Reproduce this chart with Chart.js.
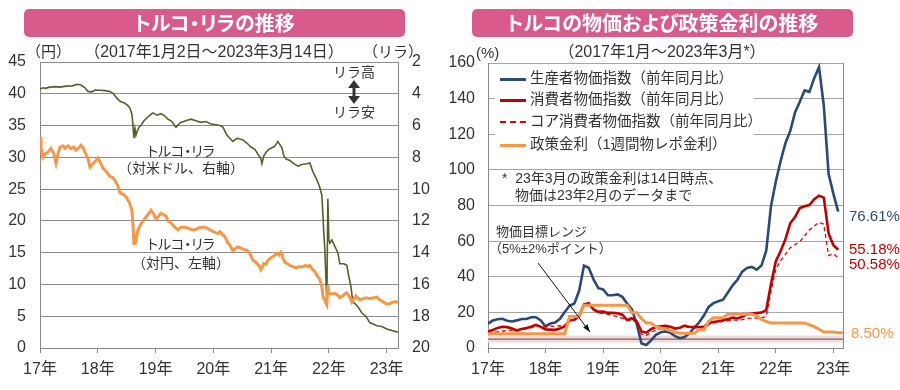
<!DOCTYPE html>
<html>
<head>
<meta charset="utf-8">
<script src="https://cdn.jsdelivr.net/npm/chart.js@4.4.0/dist/chart.umd.min.js"></script>
<style>
  body { margin: 0; width: 900px; height: 390px; background: #fff; position: relative; overflow: hidden;
         font-family: "Liberation Sans", "Noto Sans CJK JP", sans-serif; color: #333; }
  canvas { position: absolute; top: 0; }
  .banner { position: absolute; top: 9px; height: 28px; width: 381px; background: #d95b8b; border-radius: 5px;
            color: #fff; font: bold 20px "Noto Sans CJK JP", sans-serif; line-height: 28px; text-align: center;
            font-feature-settings: "palt"; }
  .t { position: absolute; white-space: nowrap; line-height: 1; font-size: 15px; }
  .p { font-feature-settings: "palt"; }
  .c { transform: translateX(-50%); }
  #legend { position: absolute; left: 495px; top: 65px; width: 259px; height: 94px; background: #fff; }
  .row { position: absolute; left: 0; height: 20px; font-size: 14.5px; line-height: 20px; white-space: nowrap; }
  .row i { display: inline-block; width: 26px; margin: 0 4px 0 5px; vertical-align: middle; }
</style>
</head>
<body>
<canvas id="left" width="450" height="390" style="left:0"></canvas>
<canvas id="right" width="450" height="390" style="left:450px"></canvas>

<div class="banner" style="left:24px">トルコ・リラの推移</div>
<div class="banner" style="left:472px">トルコの物価および政策金利の推移</div>

<div class="t" style="left:26px;top:44px">（円）</div>
<div class="t c" style="left:214px;top:44px;font-size:16px">（2017年1月2日～2023年3月14日）</div>
<div class="t" style="left:363px;top:44px">（リラ）</div>
<div class="t c p" style="left:181px;top:144px;font-size:14px">トルコ・リラ</div>
<div class="t c" style="left:181px;top:161px;font-size:14px">（対米ドル、右軸）</div>
<div class="t c p" style="left:181px;top:237px;font-size:14px">トルコ・リラ</div>
<div class="t c" style="left:181px;top:256px;font-size:14px">（対円、左軸）</div>
<div class="t c" style="left:354px;top:65px;font-size:14px">リラ高</div>
<div class="t c" style="left:354px;top:105px;font-size:14px">リラ安</div>

<div class="t" style="left:476px;top:45px">(%)</div>
<div class="t c" style="left:662px;top:44px;font-size:16px">（2017年1月～2023年3月*）</div>
<div id="legend">
  <div class="row" style="top:3px"><i style="border-top:3px solid #2b4a76"></i>生産者物価指数（前年同月比）</div>
  <div class="row" style="top:24px"><i style="border-top:3px solid #c00000"></i>消費者物価指数（前年同月比）</div>
  <div class="row" style="top:46px"><i style="border-top:2px dashed #e00000"></i>コア消費者物価指数（前年同月比）</div>
  <div class="row" style="top:69px"><i style="border-top:3px solid #f79646"></i>政策金利（1週間物レポ金利）</div>
</div>
<div class="t" style="left:502px;top:171px;font-size:14px">*&nbsp;&nbsp;23年3月の政策金利は14日時点、</div>
<div class="t" style="left:515px;top:188px;font-size:14px">物価は23年2月のデータまで</div>
<div class="t" style="left:496px;top:225px;font-size:13px">物価目標レンジ</div>
<div class="t" style="left:489px;top:242px;font-size:13px">（5%±2%ポイント）</div>
<div class="t" style="left:849px;top:208px;color:#2b4a76">76.61%</div>
<div class="t" style="left:849px;top:241px;color:#c00000">55.18%</div>
<div class="t" style="left:849px;top:256px;color:#c00000">50.58%</div>
<div class="t" style="left:851px;top:325px;color:#f79646">8.50%</div>

<script>
// トルコ・リラ (daily)
const yearTicks = [2017, 2018, 2019, 2020, 2021, 2022, 2023];

const usdDates = [2017.000, 2017.052, 2017.087, 2017.173, 2017.260, 2017.346, 2017.450, 2017.554, 2017.657, 2017.709,
  2017.779, 2017.830, 2017.900, 2017.952, 2018.038, 2018.125, 2018.211, 2018.263, 2018.349, 2018.401,
  2018.471, 2018.522, 2018.557, 2018.592, 2018.609, 2018.626, 2018.644, 2018.661, 2018.678, 2018.713,
  2018.747, 2018.799, 2018.869, 2018.920, 2018.955, 2019.024, 2019.093, 2019.163, 2019.215, 2019.284,
  2019.353, 2019.405, 2019.439, 2019.526, 2019.612, 2019.699, 2019.785, 2019.872, 2019.958, 2020.045,
  2020.114, 2020.166, 2020.235, 2020.287, 2020.339, 2020.408, 2020.460, 2020.512, 2020.581, 2020.651,
  2020.720, 2020.772, 2020.824, 2020.841, 2020.875, 2020.910, 2020.962, 2021.014, 2021.066, 2021.118,
  2021.152, 2021.187, 2021.221, 2021.256, 2021.325, 2021.394, 2021.464, 2021.533, 2021.619, 2021.671,
  2021.723, 2021.792, 2021.844, 2021.879, 2021.896, 2021.913, 2021.931, 2021.948, 2021.965, 2021.983,
  2022.000, 2022.017, 2022.052, 2022.104, 2022.156, 2022.190, 2022.260, 2022.311, 2022.346, 2022.381,
  2022.415, 2022.450, 2022.502, 2022.571, 2022.640, 2022.709, 2022.830, 2022.917, 2023.003, 2023.090,
  2023.194];
const usdValues = [3.70, 3.62, 3.66, 3.58, 3.55, 3.58, 3.52, 3.50, 3.40, 3.45,
  3.62, 3.85, 3.88, 3.76, 3.78, 3.80, 3.85, 3.97, 4.35, 4.50,
  4.60, 4.75, 4.90, 5.30, 6.00, 6.80, 6.20, 6.60, 6.40, 6.10,
  6.00, 5.70, 5.45, 5.30, 5.20, 5.35, 5.25, 5.40, 5.60, 5.75,
  6.10, 5.90, 5.80, 5.70, 5.60, 5.70, 5.80, 5.75, 5.90, 5.95,
  6.00, 6.10, 6.60, 6.80, 7.00, 6.80, 6.85, 6.90, 7.10, 7.35,
  7.50, 7.80, 8.10, 8.40, 7.90, 7.70, 7.50, 7.40, 7.30, 7.00,
  7.20, 7.40, 7.90, 8.10, 8.20, 8.40, 8.55, 8.45, 8.40, 8.35,
  8.90, 9.40, 9.90, 10.40, 11.50, 12.80, 13.80, 15.50, 17.20, 10.60,
  13.20, 13.40, 13.20, 13.60, 14.00, 14.70, 14.70, 14.80, 15.50, 16.10,
  17.10, 17.20, 17.40, 17.80, 18.00, 18.40, 18.60, 18.65, 18.80, 18.90,
  19.00];

const jpyDates = [2017.000, 2017.017, 2017.052, 2017.087, 2017.138, 2017.190, 2017.242, 2017.277, 2017.311, 2017.346,
  2017.398, 2017.433, 2017.484, 2017.536, 2017.588, 2017.623, 2017.675, 2017.709, 2017.744, 2017.779,
  2017.830, 2017.865, 2017.917, 2017.969, 2018.003, 2018.038, 2018.090, 2018.142, 2018.211, 2018.263,
  2018.315, 2018.349, 2018.384, 2018.436, 2018.488, 2018.540, 2018.574, 2018.592, 2018.609, 2018.626,
  2018.644, 2018.661, 2018.696, 2018.747, 2018.817, 2018.869, 2018.920, 2018.972, 2019.007, 2019.042,
  2019.093, 2019.128, 2019.180, 2019.215, 2019.266, 2019.336, 2019.388, 2019.439, 2019.509, 2019.578,
  2019.630, 2019.682, 2019.751, 2019.803, 2019.855, 2019.907, 2019.958, 2020.028, 2020.080, 2020.114,
  2020.166, 2020.201, 2020.253, 2020.287, 2020.339, 2020.374, 2020.426, 2020.478, 2020.529, 2020.581,
  2020.633, 2020.685, 2020.737, 2020.789, 2020.824, 2020.841, 2020.875, 2020.910, 2020.945, 2020.997,
  2021.048, 2021.100, 2021.135, 2021.170, 2021.187, 2021.204, 2021.239, 2021.291, 2021.343, 2021.377,
  2021.429, 2021.481, 2021.550, 2021.602, 2021.637, 2021.671, 2021.706, 2021.758, 2021.810, 2021.844,
  2021.879, 2021.896, 2021.913, 2021.931, 2021.948, 2021.965, 2021.983, 2022.000, 2022.017, 2022.069,
  2022.104, 2022.156, 2022.190, 2022.242, 2022.277, 2022.311, 2022.346, 2022.381, 2022.398, 2022.433,
  2022.467, 2022.484, 2022.536, 2022.571, 2022.640, 2022.709, 2022.779, 2022.830, 2022.882, 2022.952,
  2023.003, 2023.055, 2023.107, 2023.159, 2023.194];
const jpyValues = [33.2, 31.5, 30.0, 30.5, 30.8, 31.4, 30.5, 29.1, 30.5, 31.6,
  31.8, 31.4, 31.8, 31.4, 31.6, 31.1, 31.5, 31.9, 31.5, 30.8,
  29.8, 28.5, 29.0, 29.5, 29.9, 29.3, 28.3, 27.8, 27.0, 26.8,
  26.1, 25.5, 24.4, 24.2, 23.8, 23.0, 22.2, 21.5, 19.5, 16.2,
  17.5, 17.0, 18.6, 19.5, 20.4, 21.0, 21.7, 21.0, 20.3, 20.6,
  21.2, 21.0, 20.8, 20.0, 19.7, 19.0, 18.6, 19.0, 19.0, 18.8,
  18.6, 18.6, 18.9, 19.0, 19.0, 18.8, 18.5, 18.2, 18.0, 18.3,
  17.8, 17.5, 16.5, 16.2, 15.3, 15.6, 15.9, 15.7, 15.5, 15.4,
  14.9, 13.8, 13.5, 13.0, 12.3, 12.6, 13.3, 13.2, 13.8, 14.2,
  14.5, 14.9, 14.6, 15.1, 14.9, 14.2, 13.5, 13.2, 12.9, 12.8,
  12.6, 12.8, 12.8, 13.0, 12.8, 13.0, 12.5, 12.0, 11.2, 10.8,
  9.6, 8.3, 7.8, 7.5, 7.1, 6.8, 9.9, 8.6, 8.6, 8.5,
  8.6, 8.3, 7.9, 8.2, 8.5, 8.7, 8.2, 7.6, 7.2, 7.7,
  8.2, 8.0, 7.6, 7.7, 7.9, 7.8, 7.9, 8.0, 7.6, 7.2,
  6.9, 7.0, 7.2, 7.3, 7.1];

// 物価・政策金利 (monthly from 2017年1月)
const ppi = [13.7, 15.4, 16.1, 16.4, 15.3, 14.9, 15.5, 16.3, 16.3, 17.3, 17.3, 15.5,
  12.1, 13.7, 14.3, 16.4, 20.2, 23.7, 25.0, 32.1, 46.2, 45.0, 38.5, 33.6,
  32.9, 29.6, 29.6, 30.1, 28.7, 25.0, 21.7, 13.5, 2.5, 1.7, 4.3, 7.4,
  8.8, 9.3, 8.5, 6.7, 5.5, 6.2, 8.3, 11.5, 14.3, 18.2, 23.1, 25.2,
  26.2, 27.1, 31.2, 35.2, 38.3, 42.9, 44.9, 45.5, 44.0, 46.3, 54.6, 79.9,
  93.5, 105.0, 115.0, 121.8, 132.2, 138.3, 144.6, 143.8, 151.5, 157.7, 136.0, 97.7,
  86.5, 76.61];
const cpi = [9.2, 10.1, 11.3, 11.9, 11.7, 10.9, 9.8, 10.7, 11.2, 11.9, 13.0, 11.9,
  10.4, 10.3, 10.2, 10.9, 12.2, 15.4, 15.9, 17.9, 24.5, 25.2, 21.6, 20.3,
  20.4, 19.7, 19.7, 19.5, 18.7, 15.7, 16.7, 15.0, 9.3, 8.6, 10.6, 11.8,
  12.2, 12.4, 11.9, 10.9, 11.4, 12.6, 11.8, 11.8, 11.8, 11.9, 14.0, 14.6,
  15.0, 15.6, 16.2, 17.1, 16.6, 17.5, 19.0, 19.3, 19.6, 19.9, 21.3, 36.1,
  48.7, 54.4, 61.1, 70.0, 73.5, 78.6, 79.6, 80.2, 83.5, 85.5, 84.4, 64.3,
  57.7, 55.18];
const coreCpi = [8.4, 8.8, 9.1, 9.4, 9.7, 10.0, 10.0, 10.2, 10.7, 11.4, 12.1, 12.3,
  12.0, 12.3, 12.1, 12.5, 12.9, 15.4, 16.1, 17.5, 24.1, 24.3, 21.3, 19.6,
  19.4, 18.9, 18.3, 17.5, 16.7, 15.7, 15.3, 14.5, 7.7, 7.0, 9.0, 10.0,
  10.9, 11.0, 11.0, 11.0, 11.4, 11.6, 11.6, 11.3, 11.3, 11.4, 12.9, 14.1,
  14.6, 15.0, 15.2, 15.8, 15.5, 15.9, 16.4, 16.8, 16.8, 17.0, 17.6, 31.9,
  44.3, 49.1, 52.5, 56.3, 58.0, 59.7, 63.0, 66.3, 68.5, 70.5, 69.5, 51.9,
  52.9, 50.58];
const policyRate = [8, 8, 8, 8, 8, 8, 8, 8, 8, 8, 8, 8,
  8, 8, 8, 8, 8, 17.75, 17.75, 17.75, 24, 24, 24, 24,
  24, 24, 24, 24, 24, 24, 19.75, 19.75, 16.5, 14, 14, 12,
  11.25, 10.75, 9.75, 8.75, 8.25, 8.25, 8.25, 8.25, 10.25, 10.25, 15, 17,
  17, 17, 19, 19, 19, 19, 19, 19, 18, 16, 15, 14,
  14, 14, 14, 14, 14, 14, 14, 13, 12, 10.5, 9, 9,
  9, 8.5, 8.5];
const targetBand = [3, 5, 7];

const FONT = '"Liberation Sans", "Noto Sans CJK JP", sans-serif';
const tickFont = { family: FONT, size: 16 };
const pts = (xs, ys) => ys.map((v, i) => ({ x: xs[i], y: v }));
const monthly = arr => arr.map((v, i) => ({ x: 2017 + i / 12, y: v }));
const yearLabel = v => String(v).slice(2) + '年';
const setYears = s => { s.ticks = yearTicks.map(v => ({ value: v })); };

// ---- left chart ----
const liraArrow = {
  id: 'liraArrow',
  afterDraw(chart) {
    const c = chart.ctx;
    const x = 354, y1 = 80, y2 = 104;
    c.save();
    c.strokeStyle = '#333'; c.fillStyle = '#333'; c.lineWidth = 3;
    c.beginPath(); c.moveTo(x, y1 + 5); c.lineTo(x, y2 - 5); c.stroke();
    c.beginPath(); c.moveTo(x, y1); c.lineTo(x - 6, y1 + 8); c.lineTo(x + 6, y1 + 8); c.fill();
    c.beginPath(); c.moveTo(x, y2); c.lineTo(x - 6, y2 - 8); c.lineTo(x + 6, y2 - 8); c.fill();
    c.restore();
  }
};

new Chart(document.getElementById('left'), {
  type: 'line',
  data: {
    datasets: [
      { data: pts(jpyDates, jpyValues), yAxisID: 'yL', borderColor: '#f79646', borderWidth: 3,
        pointRadius: 0, tension: 0 },
      { data: pts(usdDates, usdValues), yAxisID: 'yR', borderColor: '#4f6228', borderWidth: 1.6,
        pointRadius: 0, tension: 0 }
    ]
  },
  options: {
    responsive: false, animation: false, events: [],
    layout: { padding: { top: 62, right: 0, left: 0, bottom: 0 } },
    plugins: { legend: { display: false }, tooltip: { enabled: false } },
    scales: {
      x: {
        type: 'linear', min: 2017, max: 2023.197,
        afterBuildTicks: setYears,
        afterFit: s => { s.height = 42; },
        grid: { drawOnChartArea: false, drawTicks: true, tickLength: 5, color: '#888' },
        border: { color: '#888' },
        ticks: { font: tickFont, color: '#333', padding: 7, maxRotation: 0, callback: yearLabel }
      },
      yL: {
        position: 'left', min: 0, max: 45,
        afterFit: s => { s.width = 40; },
        grid: { color: '#8c8c8c', drawTicks: false },
        border: { color: '#888' },
        ticks: { stepSize: 5, font: tickFont, color: '#333', padding: 14 }
      },
      yR: {
        position: 'right', min: 2, max: 20, reverse: true,
        afterFit: s => { s.width = 52; },
        grid: { drawOnChartArea: false, drawTicks: false },
        border: { color: '#888' },
        ticks: { stepSize: 2, font: tickFont, color: '#333', padding: 14 }
      }
    }
  },
  plugins: [liraArrow]
});

// ---- right chart ----
const bandPlugin = {
  id: 'band',
  beforeDatasetsDraw(chart) {
    const { ctx, chartArea: a, scales } = chart;
    const y = scales.y;
    ctx.save();
    ctx.fillStyle = '#f2dcdb';
    ctx.fillRect(a.left, y.getPixelForValue(targetBand[2]), a.right - a.left,
      y.getPixelForValue(targetBand[0]) - y.getPixelForValue(targetBand[2]));
    ctx.strokeStyle = '#7b6464'; ctx.lineWidth = 1.2;
    ctx.beginPath();
    ctx.moveTo(a.left, y.getPixelForValue(targetBand[1]));
    ctx.lineTo(a.right, y.getPixelForValue(targetBand[1]));
    ctx.stroke();
    ctx.restore();
  },
  afterDatasetsDraw(chart) {
    const { ctx, scales } = chart;
    const x1 = scales.x.getPixelForValue(2017.87), y1 = scales.y.getPixelForValue(47.7);
    const x2 = scales.x.getPixelForValue(2018.77), y2 = scales.y.getPixelForValue(9);
    const ang = Math.atan2(y2 - y1, x2 - x1);
    ctx.save();
    ctx.strokeStyle = '#111'; ctx.fillStyle = '#111'; ctx.lineWidth = 1;
    ctx.beginPath(); ctx.moveTo(x1, y1); ctx.lineTo(x2, y2); ctx.stroke();
    ctx.beginPath();
    ctx.moveTo(x2, y2);
    ctx.lineTo(x2 - 8 * Math.cos(ang - 0.35), y2 - 8 * Math.sin(ang - 0.35));
    ctx.lineTo(x2 - 8 * Math.cos(ang + 0.35), y2 - 8 * Math.sin(ang + 0.35));
    ctx.fill();
    ctx.restore();
  }
};

new Chart(document.getElementById('right'), {
  type: 'line',
  data: {
    datasets: [
      { data: monthly(policyRate), borderColor: '#f79646', borderWidth: 3, pointRadius: 0, tension: 0 },
      { data: monthly(coreCpi), borderColor: '#e00000', borderWidth: 1.3, borderDash: [4, 3], pointRadius: 0, tension: 0 },
      { data: monthly(cpi), borderColor: '#c00000', borderWidth: 2.6, pointRadius: 0, tension: 0 },
      { data: monthly(ppi), borderColor: '#2b4a76', borderWidth: 2.6, pointRadius: 0, tension: 0 }
    ]
  },
  options: {
    responsive: false, animation: false, events: [],
    layout: { padding: { top: 63, right: 57, left: 0, bottom: 0 } },
    plugins: { legend: { display: false }, tooltip: { enabled: false } },
    scales: {
      x: {
        type: 'linear', min: 2017, max: 2023 + 2 / 12,
        afterBuildTicks: setYears,
        afterFit: s => { s.height = 42; },
        grid: { drawOnChartArea: false, drawTicks: true, tickLength: 5, color: '#888' },
        border: { color: '#888' },
        ticks: { font: tickFont, color: '#333', padding: 7, maxRotation: 0, callback: yearLabel }
      },
      y: {
        position: 'left', min: 0, max: 160,
        afterFit: s => { s.width = 38; },
        grid: { color: '#a6a6a6', drawTicks: false },
        border: { color: '#888' },
        ticks: { stepSize: 20, font: tickFont, color: '#333', padding: 13 }
      },
      yBox: {
        position: 'right', min: 0, max: 160, display: true,
        afterFit: s => { s.width = 0; },
        grid: { drawOnChartArea: false, drawTicks: false },
        border: { color: '#888' },
        ticks: { display: false }
      }
    }
  },
  plugins: [bandPlugin]
});
</script>
</body>
</html>
